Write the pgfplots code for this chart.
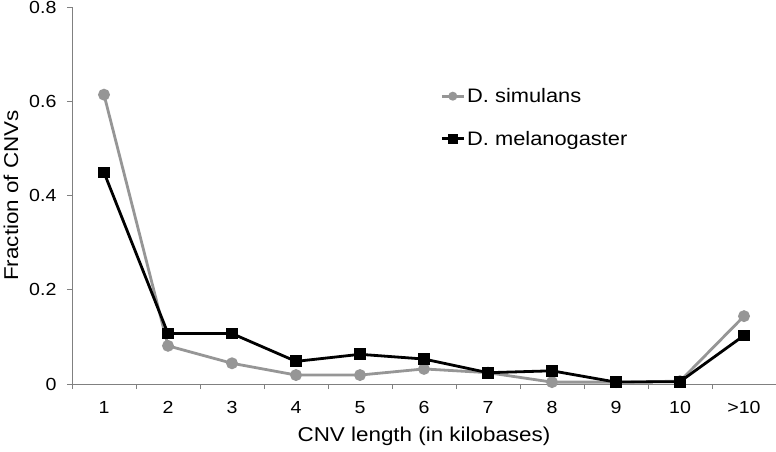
\documentclass[border=0pt]{standalone}
\usepackage{pgfplots}
\pgfplotsset{compat=1.18}
\usepackage{fontspec}
\setmainfont{Liberation Sans}[FakeStretch=1.12]
\definecolor{simgray}{RGB}{150,150,150}
\definecolor{axgray}{RGB}{128,128,128}
\begin{document}
\begin{tikzpicture}
\begin{axis}[
  at={(0,0)}, anchor=south west,
  scale only axis, width=704pt, height=377pt,
  xmin=0.5, xmax=11.5, ymin=0, ymax=0.8,
  axis x line=bottom, axis y line=left,
  axis line style={axgray, line width=0.8pt, -},
  xtick={1,...,11},
  xticklabels={1,2,3,4,5,6,7,8,9,10,>10},
  minor xtick={0.5,1.5,...,11.5},
  major x tick style={draw=none},
  minor tick length=5pt,
  ytick={0,0.2,0.4,0.6,0.8},
  yticklabels={0,0.2,0.4,0.6,0.8},
  major tick length=5pt,
  tick align=outside,
  tick style={axgray, line width=0.8pt},
  /pgf/number format/assume math mode=true,
  ticklabel style={font=\fontsize{17.5}{20}\selectfont},
  xticklabel style={yshift=-9pt},
  yticklabel style={xshift=-7pt},
  xlabel={CNV length (in kilobases)},
  ylabel={Fraction of CNVs},
  label style={font=\fontsize{20}{22}\selectfont},
  xlabel style={yshift=-6pt},
  ylabel style={yshift=4pt},
  legend style={draw=none, fill=none, at={(rel axis cs:0.523,0.79)}, anchor=north west,
    font=\fontsize{19.5}{22}\selectfont, row sep=23pt, inner sep=0pt},
  legend cell align=left,
  clip=false,
]
\addplot[simgray, line width=2.8pt, mark=*, mark size=4.5pt,
  legend image code/.code={\draw[simgray, line width=2.8pt] (0pt,0pt) -- (22pt,0pt); \fill[simgray] (11pt,0pt) circle (3pt);}]
  coordinates {(1,0.614) (2,0.081) (3,0.044) (4,0.019) (5,0.019) (6,0.032) (7,0.024) (8,0.004) (9,0.004) (10,0.006) (11,0.144)};
\addlegendentry{D. simulans}
\addplot[black, line width=2.8pt, mark=square*, mark size=4.5pt,
  legend image code/.code={\draw[black, line width=2.8pt] (0pt,0pt) -- (22pt,0pt); \fill[black] (7.5pt,-3.5pt) rectangle (14.5pt,3.5pt);}]
  coordinates {(1,0.449) (2,0.107) (3,0.107) (4,0.048) (5,0.063) (6,0.053) (7,0.024) (8,0.028) (9,0.004) (10,0.005) (11,0.103)};
\addlegendentry{D. melanogaster}
\end{axis}
\pgfresetboundingbox
\path (-72pt,-67pt) rectangle (704pt,384pt);
\end{tikzpicture}
\end{document}
